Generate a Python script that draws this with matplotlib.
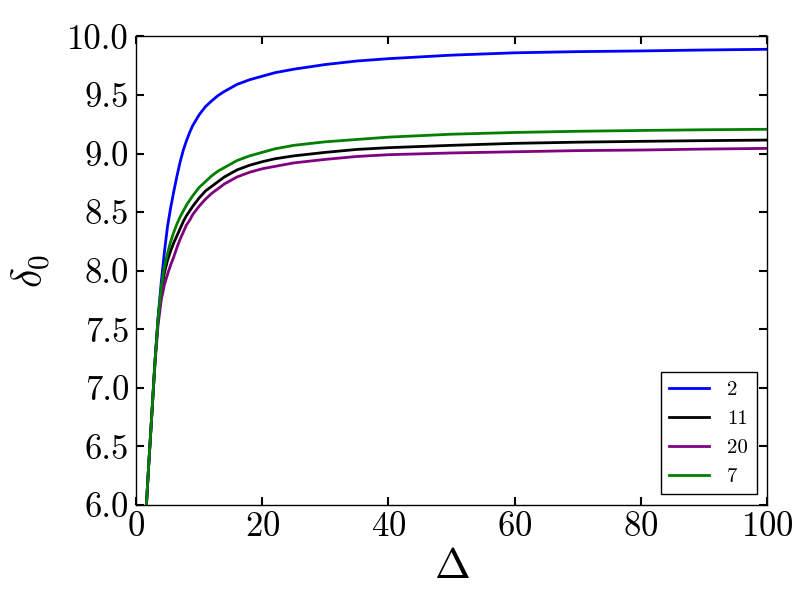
import matplotlib
matplotlib.use("Agg")
import matplotlib.pyplot as plt

plt.rcParams['font.family'] = 'serif'
plt.rcParams['font.serif'] = ['cmr10', 'DejaVu Serif']
plt.rcParams['mathtext.fontset'] = 'cm'
plt.rcParams['axes.formatter.use_mathtext'] = True

# values
delta = [1.65, 2, 2.5, 3, 3.5, 4, 4.5, 5, 5.5, 6,
         6.5, 7, 7.5, 8, 8.5, 9,
         10, 11, 12, 13, 14, 15, 16, 18,
         20, 22, 25, 30, 35, 40,
         50, 60, 70, 80, 90, 100]
d0_2 = [6.0, 6.33, 6.77, 7.22, 7.6, 7.9, 8.16, 8.38, 8.54, 8.68,
        8.81, 8.93, 9.03, 9.11, 9.18, 9.24,
        9.33, 9.40, 9.45, 9.495, 9.53, 9.56, 9.59, 9.63,
        9.66, 9.69, 9.72, 9.76, 9.79, 9.81,
        9.84, 9.86, 9.87, 9.876, 9.884, 9.89]
d0_11 = [6.0, 6.33, 6.77, 7.22, 7.58, 7.82, 7.98, 8.09, 8.17, 8.24,
         8.3, 8.36, 8.42, 8.47, 8.51, 8.55,
         8.62, 8.68, 8.72, 8.76, 8.8, 8.83, 8.86, 8.9,
         8.93, 8.955, 8.98, 9.01, 9.035, 9.05,
         9.07, 9.087, 9.097, 9.104, 9.11, 9.115]
d0_20 = [6.0, 6.33, 6.76, 7.2, 7.54, 7.75, 7.88, 7.97, 8.05, 8.12,
         8.2, 8.27, 8.33, 8.39, 8.43, 8.48,
         8.55, 8.61, 8.66, 8.7, 8.74, 8.77, 8.8, 8.84,
         8.87, 8.89, 8.92, 8.95, 8.975, 8.99,
         9.005, 9.015, 9.025, 9.03, 9.038, 9.044]
d0_7 = [6.0, 6.33, 6.77, 7.22, 7.6, 7.86, 8.03, 8.15, 8.25, 8.33,
        8.4, 8.46, 8.51, 8.56, 8.6, 8.64,
        8.71, 8.76, 8.81, 8.85, 8.88, 8.91, 8.94, 8.98,
        9.01, 9.04, 9.07, 9.1, 9.12, 9.14,
        9.165, 9.18, 9.19, 9.197, 9.203, 9.207]

labels = ['2', '11', '20', '7']
colors = ['blue', 'black', 'purple', 'green']
series = [d0_2, d0_11, d0_20, d0_7]

fig = plt.figure(figsize=(8.12, 6.12), dpi=100)
ax = fig.add_axes([0.1675, 0.175, 0.777, 0.7655])

for ys, lab, c in zip(series, labels, colors):
    ax.plot(delta, ys, color=c, lw=2.0, label=lab)

ax.set_xlim(0, 100)
ax.set_ylim(6.0, 10.0)
ax.set_xticks([0, 20, 40, 60, 80, 100])
ax.set_yticks([6.0, 6.5, 7.0, 7.5, 8.0, 8.5, 9.0, 9.5, 10.0])
ax.yaxis.set_major_formatter(matplotlib.ticker.FormatStrFormatter('%.1f'))
ax.tick_params(direction='in', length=6, width=1.5, labelsize=25,
               top=True, right=True, pad=5)
for s in ax.spines.values():
    s.set_linewidth(1.0)

ax.set_xlabel(r'$\Delta$', fontsize=31, labelpad=4)
ax.set_ylabel(r'$\delta_0$', fontsize=30, labelpad=10)

leg = ax.legend(loc='lower right', fontsize=15, fancybox=False, edgecolor='black',
                framealpha=1, handlelength=1.9, handletextpad=0.9)
leg.get_frame().set_linewidth(1.0)

fig.savefig('out.png', dpi=100)
